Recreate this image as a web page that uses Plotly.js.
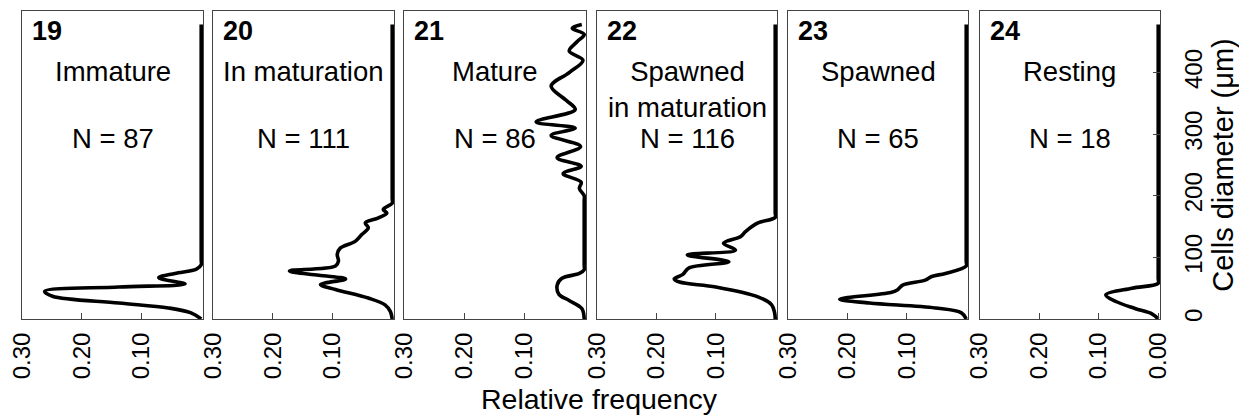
<!DOCTYPE html>
<html>
<head>
<meta charset="utf-8">
<script src="https://cdn.plot.ly/plotly-3.0.1.min.js"></script>
<style>html,body{margin:0;padding:0;background:#fff;}#chart{width:1239px;height:417px;}</style>
</head>
<body>
<div id="chart"></div>
<script>
// Panel identifiers and labels
const panelNumbers = ["19", "20", "21", "22", "23", "24"];
const panelTitles = ["Immature", "In maturation", "Mature", "Spawned<br>in maturation", "Spawned", "Resting"];
const panelN = ["N = 87", "N = 111", "N = 86", "N = 116", "N = 65", "N = 18"];

// Cell diameter (µm) and relative frequency for each stage
const diam19 = [0, 10, 18, 26, 37, 45, 52, 57, 67, 74, 81, 88, 96, 470, 478];
const freq19 = [0, 0.017, 0.055, 0.138, 0.249, 0.262, 0.138, 0.027, 0.071, 0.044, 0.008, 0, 0, 0, 0];

const diam20 = [0, 12, 23, 34, 48, 56, 65, 71, 78, 86, 94, 105, 115, 126, 137, 148, 156, 164, 172, 178, 188, 196, 470, 478];
const freq20 = [0, 0.003, 0.012, 0.04, 0.095, 0.12, 0.078, 0.123, 0.172, 0.095, 0.09, 0.092, 0.087, 0.062, 0.051, 0.04, 0.045, 0.023, 0.009, 0.015, 0, 0, 0, 0];

const diam21 = [0, 17, 30, 40, 55, 66, 74, 80, 88, 192, 200, 212, 222, 236, 248, 262, 280, 298, 310, 320, 340, 355, 378, 400, 420, 435, 450, 462, 472, 478];
const freq21 = [0, 0.004, 0.025, 0.042, 0.045, 0.037, 0.008, 0, 0, 0, 0, 0.008, 0.005, 0.035, 0.005, 0.045, 0.006, 0.055, 0.015, 0.08, 0.015, 0.03, 0.055, 0.025, 0.002, 0.025, 0.012, 0, 0.02, 0.004];

const diam22 = [0, 10, 23, 36, 52, 60, 65, 72, 83, 93, 104, 112, 123, 134, 142, 156, 165, 173, 470, 478];
const freq22 = [0, 0.001, 0.006, 0.029, 0.1, 0.161, 0.17, 0.156, 0.145, 0.078, 0.148, 0.067, 0.087, 0.058, 0.05, 0.029, 0, 0, 0, 0];

const diam23 = [0, 10, 18, 26, 32, 43, 47, 55, 63, 69, 74, 86, 94, 470, 478];
const freq23 = [0, 0.008, 0.052, 0.163, 0.213, 0.127, 0.116, 0.107, 0.069, 0.058, 0.035, 0, 0, 0, 0];

const diam24 = [0, 8, 17, 28, 39, 50, 58, 66, 470, 478];
const freq24 = [0, 0.01, 0.039, 0.07, 0.088, 0.044, 0, 0, 0, 0];

const xTickVals = [0.3, 0.2, 0.1, 0.0];
const xTickText = ["0.30", "0.20", "0.10", "0.00"];
const yTickVals = [0, 100, 200, 300, 400];

const diams = [diam19, diam20, diam21, diam22, diam23, diam24];
const freqs = [freq19, freq20, freq21, freq22, freq23, freq24];

const W = 1239, H = 417;
const lefts = [22, 213, 404, 597, 788, 979.5];
const rights = [203, 394, 586, 777, 968, 1160];
const plotTop = 11, plotBottom = 319;
const FONT = "Liberation Sans, Arial, Helvetica, sans-serif";

const traces = [];
const layout = {
  width: W, height: H,
  margin: {l: 0, r: 0, t: 0, b: 0, pad: 0},
  paper_bgcolor: "#fff", plot_bgcolor: "#fff",
  showlegend: false,
  font: {family: FONT, color: "#000"},
  annotations: []
};

for (let i = 0; i < 6; i++) {
  const sfx = i === 0 ? "" : String(i + 1);
  traces.push({
    x: freqs[i], y: diams[i],
    xaxis: "x" + sfx, yaxis: "y" + sfx,
    type: "scatter", mode: "lines",
    line: {color: "#000", width: 3.6, shape: "spline", smoothing: 1},
    hoverinfo: "skip"
  });
  const last = i === 5;
  layout["xaxis" + sfx] = {
    domain: [lefts[i] / W, rights[i] / W],
    anchor: "y" + sfx,
    range: [0.3, -0.003],
    tickmode: "array",
    tickvals: last ? xTickVals : xTickVals.slice(0, 3),
    ticktext: last ? xTickText : xTickText.slice(0, 3),
    ticks: "inside", ticklen: 6, tickwidth: 1, tickcolor: "#444",
    tickangle: -90,
    tickfont: {family: FONT, size: 24, color: "#000"},
    ticklabelstandoff: 3,
    showline: true, mirror: true, linecolor: "#444", linewidth: 1,
    showgrid: false, zeroline: false, fixedrange: true
  };
  layout["yaxis" + sfx] = {
    domain: [(H - plotBottom) / H, (H - plotTop) / H],
    anchor: "x" + sfx,
    range: [0, 500],
    showline: true, mirror: true, linecolor: "#444", linewidth: 1,
    showgrid: false, zeroline: false, fixedrange: true,
    showticklabels: last,
    ticks: last ? "inside" : "",
    side: last ? "right" : "left"
  };
  if (last) {
    Object.assign(layout["yaxis" + sfx], {
      tickmode: "array", tickvals: yTickVals,
      ticklen: 7, tickwidth: 1, tickcolor: "#444",
      tickangle: -90,
      tickfont: {family: FONT, size: 24, color: "#000"},
      ticklabelstandoff: 12,
      title: {text: "Cells diameter (μm)", font: {family: FONT, size: 29, color: "#000"}, standoff: 8}
    });
  }
  const cx = (lefts[i] + rights[i]) / 2 / W;
  layout.annotations.push({
    text: "<b>" + panelNumbers[i] + "</b>", xref: "paper", yref: "paper",
    x: (lefts[i] + 8) / W, y: (H - 31) / H, xanchor: "left", yanchor: "middle",
    showarrow: false, font: {family: FONT, size: 27, color: "#000"}
  });
  const twoLine = panelTitles[i].indexOf("<br>") >= 0;
  layout.annotations.push({
    text: panelTitles[i], xref: "paper", yref: "paper",
    x: cx, y: (H - (twoLine ? 89 : 71)) / H, xanchor: "center", yanchor: "middle",
    showarrow: false, font: {family: FONT, size: 27.5, color: "#000"}
  });
  layout.annotations.push({
    text: panelN[i], xref: "paper", yref: "paper",
    x: cx, y: (H - 138) / H, xanchor: "center", yanchor: "middle",
    showarrow: false, font: {family: FONT, size: 27.5, color: "#000"}
  });
}
layout.annotations.push({
  text: "Relative frequency", xref: "paper", yref: "paper",
  x: 599 / W, y: (H - 399) / H, xanchor: "center", yanchor: "middle",
  showarrow: false, font: {family: FONT, size: 28.5, color: "#000"}
});

Plotly.newPlot("chart", traces, layout, {staticPlot: true, displayModeBar: false});
</script>
</body>
</html>
